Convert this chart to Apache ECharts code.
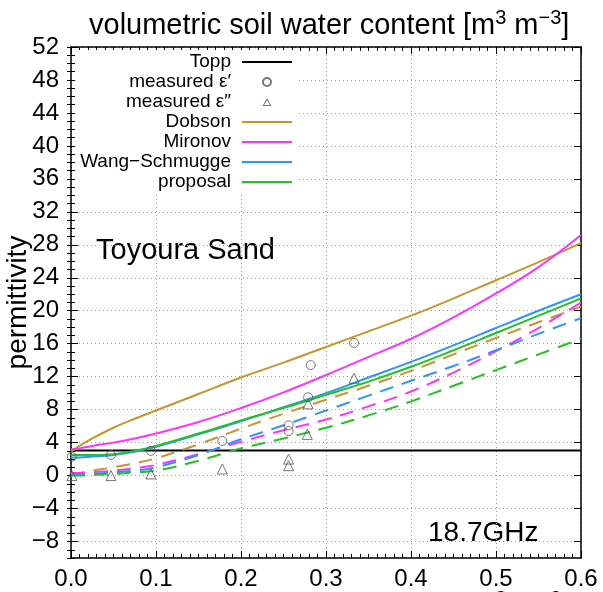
<!DOCTYPE html>
<html>
<head>
<meta charset="utf-8">
<title></title>
<script src="https://cdn.jsdelivr.net/npm/echarts@6/dist/echarts.min.js"></script>
<style>
  html, body { margin: 0; padding: 0; background: #fff; }
  #main { width: 603px; height: 592px; }
</style>
</head>
<body>
<div id="main"></div>
<script type="text/javascript">
  // soil water content (x) for the model curves
  var theta = [0, 0.01, 0.025, 0.05, 0.075, 0.1, 0.15, 0.2, 0.25, 0.3, 0.35, 0.4, 0.45, 0.5, 0.55, 0.6];

  // real part (solid lines)
  var dobsonReal   = [2.9, 3.6, 4.5, 5.8, 6.9, 7.9, 9.9, 11.9, 13.7, 15.6, 17.5, 19.4, 21.5, 23.7, 25.9, 28.2];
  var mironovReal  = [3.2, 3.3, 3.6, 4.0, 4.5, 5.1, 6.5, 8.2, 10.1, 12.2, 14.4, 16.6, 19.2, 22.1, 25.3, 29.2];
  var wangReal     = [2.2, 2.2, 2.3, 2.5, 2.9, 3.5, 5.0, 6.6, 8.3, 10.0, 11.9, 13.8, 15.8, 17.9, 20.0, 22.0];
  var proposalReal = [2.5, 2.5, 2.5, 2.6, 3.0, 3.6, 5.1, 6.7, 8.2, 9.8, 11.4, 13.2, 15.2, 17.3, 19.4, 21.5];

  // imaginary part (dashed lines)
  var dobsonImag   = [0, 0.3, 0.6, 1.0, 1.5, 2.1, 3.8, 5.7, 7.5, 9.2, 10.9, 12.7, 14.7, 16.7, 18.6, 20.5];
  var mironovImag  = [0.3, 0.3, 0.4, 0.6, 0.9, 1.3, 2.6, 4.1, 5.5, 6.8, 8.4, 10.2, 12.5, 15.1, 17.9, 21.0];
  var wangImag     = [0.1, 0.1, 0.2, 0.4, 0.6, 1.0, 2.5, 4.4, 6.1, 7.9, 9.7, 11.5, 13.3, 15.2, 17.2, 19.1];
  var proposalImag = [0, 0, 0.1, 0.2, 0.4, 0.6, 1.8, 3.3, 4.5, 5.8, 7.3, 9.0, 10.9, 12.8, 14.7, 16.6];

  var toppTheta = [0, 0.6];
  var toppReal  = [3.03, 3.03];

  // measurements
  var measTheta = [0.001, 0.047, 0.094, 0.178, 0.256, 0.256, 0.279, 0.282, 0.333];
  var measReal  = [2.3, 2.5, 3.0, 4.2, 6.1, 5.4, 9.5, 13.4, 16.1];
  var measThetaImag = [0.001, 0.047, 0.094, 0.178, 0.256, 0.256, 0.278, 0.279, 0.333];
  var measImag  = [0.0, 0.0, 0.2, 0.8, 2.0, 1.2, 5.0, 8.7, 11.8];

  var yTicks = [-8, -4, 0, 4, 8, 12, 16, 20, 24, 28, 32, 36, 40, 44, 48, 52];

  function pairs(xs, ys) {
    return xs.map(function (x, i) { return [x, ys[i]]; });
  }

  var FONT = 'Liberation Sans, Arial, sans-serif';
  var cDobson = '#c8952b', cMironov = '#ff33ff', cWang = '#2b95ff', cProp = '#22c222';
  var xName = 'volumetric soil water content [m{s|3} m{s|\u22123}]';

  function curve(name, data, color, dashed) {
    return {
      name: name,
      type: 'line',
      data: data,
      smooth: 0.4,
      symbol: 'none',
      animation: false,
      lineStyle: { color: color, width: 2, type: dashed ? [14, 9] : 'solid' },
      itemStyle: { color: color }
    };
  }

  var myChart = echarts.init(document.getElementById('main'));

  var axisLineStyle = { show: true, onZero: false, lineStyle: { color: '#000', width: 1.5 } };
  var gridLine = { show: true, lineStyle: { color: '#999', type: [1, 3], width: 1 } };
  var noIcon = { opacity: 0 };
  var hollow = { color: 'rgba(0,0,0,0)', borderColor: '#555', borderWidth: 1 };
  var titleText = {
    fontFamily: FONT, fontSize: 29, fontWeight: 'normal', color: '#000', lineHeight: 36,
    rich: { s: { fontFamily: FONT, fontSize: 20, lineHeight: 20, verticalAlign: 'top', color: '#000' } }
  };
  // hollow triangle for the legend, framed to the 50x8 icon box
  var triIcon = 'path://M0,0 M50,8 M25,-0.6 L30,8.3 L20,8.3 Z M25,1.9 L21.8,7.2 L28.2,7.2 Z';

  var option = {
    backgroundColor: '#fff',
    animation: false,
    textStyle: { fontFamily: FONT },
    title: [
      { text: xName, left: 84, top: 3, textStyle: titleText },
      // axis title at the bottom, almost entirely below the picture
      { text: xName, left: 84, top: 584, textStyle: titleText }
    ],
    grid: { left: 71, right: 22, top: 47, bottom: 34, outerBoundsMode: 'none', containLabel: false },
    legend: {
      orient: 'vertical',
      right: 305,
      top: 50,
      align: 'right',
      padding: [2, 5, 2, 5],
      backgroundColor: '#fff',
      itemWidth: 50,
      itemHeight: 8,
      itemGap: 0,
      symbolKeepAspect: true,
      textStyle: { fontFamily: FONT, fontSize: 19, color: '#000', lineHeight: 20, padding: [0, 6, 0, 0] },
      data: [
        { name: 'Topp', itemStyle: noIcon },
        { name: 'measured \u03b5\u2032' },
        { name: 'measured \u03b5\u2033', icon: triIcon, itemStyle: { color: '#555', borderWidth: 0 } },
        { name: 'Dobson', itemStyle: noIcon },
        { name: 'Mironov', itemStyle: noIcon },
        { name: 'Wang\u2212Schmugge', itemStyle: noIcon },
        { name: 'proposal', itemStyle: noIcon }
      ]
    },
    graphic: [
      { type: 'text', left: 96, top: 236, style: { text: 'Toyoura Sand', fontFamily: FONT, fontSize: 29, fill: '#000' } },
      { type: 'text', left: 428, top: 519, style: { text: '18.7GHz', fontFamily: FONT, fontSize: 28, fill: '#000' } }
    ],
    xAxis: [{
      type: 'value', position: 'bottom', min: 0, max: 0.6, interval: 0.1,
      axisLine: axisLineStyle,
      axisTick: { show: true, inside: true, length: 7, lineStyle: { color: '#000', width: 1 } },
      minorTick: { show: true, splitNumber: 10, length: 4, lineStyle: { color: '#000', width: 1 } },
      axisLabel: { fontFamily: FONT, fontSize: 24, color: '#000', margin: 9, formatter: function (v) { return v.toFixed(1); } },
      splitLine: gridLine
    }, {
      type: 'value', position: 'top', min: 0, max: 0.6, interval: 0.1,
      axisLine: axisLineStyle,
      axisTick: { show: true, inside: true, length: 7, lineStyle: { color: '#000', width: 1 } },
      minorTick: { show: true, splitNumber: 10, length: 4, lineStyle: { color: '#000', width: 1 } },
      axisLabel: { show: false },
      splitLine: { show: false }
    }],
    yAxis: [{
      type: 'value', position: 'left', min: -10, max: 52,
      name: 'permittivity', nameLocation: 'middle', nameGap: 39, nameMoveOverlap: false,
      nameTextStyle: { fontFamily: FONT, fontSize: 28, color: '#000' },
      axisLine: axisLineStyle,
      axisTick: { show: true, inside: true, length: 7, customValues: yTicks, lineStyle: { color: '#000', width: 1 } },
      axisLabel: { fontFamily: FONT, fontSize: 24, color: '#000', margin: 12, customValues: yTicks,
        formatter: function (v) { return String(v).replace('-', '\u2212'); } },
      splitLine: gridLine
    }, {
      type: 'value', position: 'left', min: -10, max: 52, interval: 1,
      axisLine: { show: false },
      axisTick: { show: true, inside: true, length: 4, lineStyle: { color: '#000', width: 1 } },
      axisLabel: { show: false },
      splitLine: { show: false }
    }, {
      type: 'value', position: 'right', min: -10, max: 52,
      axisLine: axisLineStyle,
      axisTick: { show: true, inside: true, length: 7, customValues: yTicks, lineStyle: { color: '#000', width: 1 } },
      axisLabel: { show: false, customValues: yTicks },
      splitLine: { show: false }
    }, {
      type: 'value', position: 'right', min: -10, max: 52, interval: 1,
      axisLine: { show: false },
      axisTick: { show: true, inside: true, length: 4, lineStyle: { color: '#000', width: 1 } },
      axisLabel: { show: false },
      splitLine: { show: false }
    }],
    series: [
      curve('Topp', pairs(toppTheta, toppReal), '#000', false),
      {
        name: 'measured \u03b5\u2032', type: 'scatter', symbol: 'circle', symbolSize: 9,
        data: pairs(measTheta, measReal),
        itemStyle: hollow, z: 5
      },
      {
        name: 'measured \u03b5\u2033', type: 'scatter', symbol: 'triangle', symbolSize: 10,
        data: pairs(measThetaImag, measImag),
        itemStyle: hollow, z: 5
      },
      curve('Dobson', pairs(theta, dobsonReal), cDobson, false),
      curve('Mironov', pairs(theta, mironovReal), cMironov, false),
      curve('Wang\u2212Schmugge', pairs(theta, wangReal), cWang, false),
      curve('proposal', pairs(theta, proposalReal), cProp, false),
      curve('Dobson \u03b5\u2033', pairs(theta, dobsonImag), cDobson, true),
      curve('Mironov \u03b5\u2033', pairs(theta, mironovImag), cMironov, true),
      curve('Wang\u2212Schmugge \u03b5\u2033', pairs(theta, wangImag), cWang, true),
      curve('proposal \u03b5\u2033', pairs(theta, proposalImag), cProp, true)
    ]
  };

  myChart.setOption(option);
</script>
</body>
</html>
